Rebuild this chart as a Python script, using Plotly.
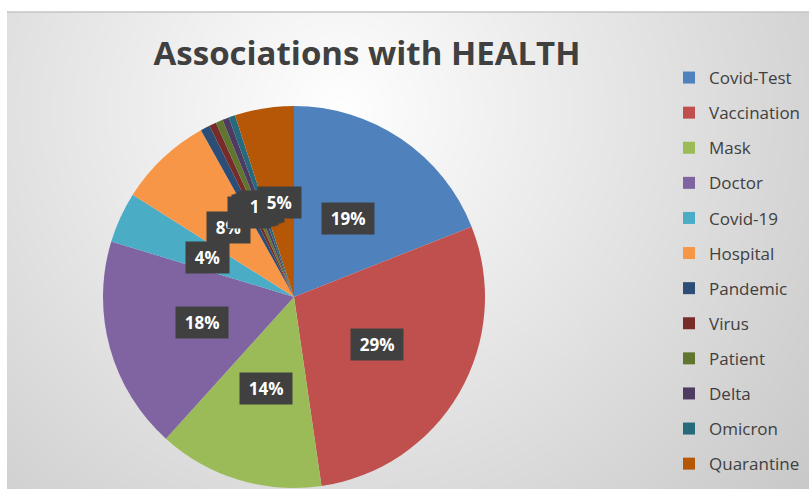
import math
import zlib
import struct
import base64
import plotly.graph_objects as go

# ---------------- data ----------------
categories = ["Covid-Test", "Vaccination", "Mask", "Doctor", "Covid-19", "Hospital",
              "Pandemic", "Virus", "Patient", "Delta", "Omicron", "Quarantine"]
values = [19.0, 28.7, 14.0, 18.0, 4.3, 7.9, 0.8, 0.6, 0.6, 0.55, 0.55, 5.0]
colors = ["#4F81BD", "#C0504D", "#9BBB59", "#8064A2", "#4BACC6", "#F79646",
          "#2C4D75", "#772C2A", "#5F7530", "#4D3B62", "#276A7C", "#B65708"]
title_text = "Associations with HEALTH"

# ---------------- geometry / style ----------------
W, H = 809, 489
FONT = "Open Sans"
DARK = "#404040"

# pie domain in pixels (left, right, top, bottom)
pie_l, pie_r, pie_t, pie_b = 103, 485, 106, 488
dom_x = [pie_l / W, pie_r / W]
dom_y = [1 - pie_b / H, 1 - pie_t / H]


# ---------------- background gradient (style only) ----------------
def png_gray(w, h, rows):
    raw = b"".join(b"\x00" + bytes(r) for r in rows)

    def chunk(t, d):
        c = struct.pack(">I", len(d)) + t + d
        return c + struct.pack(">I", zlib.crc32(t + d) & 0xFFFFFFFF)

    ihdr = struct.pack(">IIBBBBB", w, h, 8, 0, 0, 0, 0)
    return (b"\x89PNG\r\n\x1a\n" + chunk(b"IHDR", ihdr)
            + chunk(b"IDAT", zlib.compress(raw, 9)) + chunk(b"IEND", b""))


bg_x0, bg_y0 = 7, 12
bg_w, bg_h = W - bg_x0, H - bg_y0
scale = 2
iw, ih = bg_w // scale, bg_h // scale
gcx, gcy, k = 340, 110, 0.09
rows = []
for j in range(ih):
    py = bg_y0 + (j + 0.5) * scale
    row = []
    for i in range(iw):
        px = bg_x0 + (i + 0.5) * scale
        d = math.hypot(px - gcx, py - gcy)
        v = 255 - k * d
        row.append(int(max(195, min(255, v))))
    rows.append(row)
bg_src = "data:image/png;base64," + base64.b64encode(png_gray(iw, ih, rows)).decode()

fig = go.Figure()

fig.add_trace(go.Pie(
    labels=categories,
    values=values,
    marker=dict(colors=colors, line=dict(width=0)),
    sort=False,
    direction="clockwise",
    rotation=0,
    textinfo="none",
    showlegend=False,
    domain=dict(x=dom_x, y=dom_y),
    hoverinfo="label+percent",
))

# legend entries (one per category, coloured squares)
for cat, col in zip(categories, colors):
    fig.add_trace(go.Scatter(
        x=[None], y=[None], mode="markers",
        marker=dict(symbol="square", size=12, color=col),
        name=cat, legendgroup=cat, showlegend=True, hoverinfo="skip",
    ))

# data labels: dark boxes at half radius of each slice's mid angle
total = sum(values)
cx_px = (pie_l + pie_r) / 2
cy_px = (pie_t + pie_b) / 2
R = min(pie_r - pie_l, pie_b - pie_t) / 2
annotations = []
cum = 0.0
for v in values:
    frac = v / total
    mid = cum + frac / 2
    cum += frac
    th = 2 * math.pi * mid
    x_px = cx_px + 0.5 * R * math.sin(th)
    y_px = cy_px - 0.5 * R * math.cos(th)
    pct = int(math.floor(frac * 100 + 0.5))
    annotations.append(dict(
        x=x_px / W, y=1 - y_px / H, xref="paper", yref="paper",
        text=f"<b>\u2009{pct}%\u2009</b>", showarrow=False,
        font=dict(family=FONT, size=17, color="white"),
        bgcolor=DARK, borderpad=6, height=19,
        xanchor="center", yanchor="middle",
    ))

fig.update_layout(
    width=W, height=H,
    margin=dict(l=0, r=0, t=0, b=0),
    paper_bgcolor="white",
    plot_bgcolor="rgba(0,0,0,0)",
    xaxis=dict(visible=False, range=[0, 1]),
    yaxis=dict(visible=False, range=[0, 1]),
    title=dict(
        text=f"<b>{title_text}</b>",
        font=dict(family=FONT, size=33, color=DARK),
        x=367 / W, xanchor="center", xref="paper",
        y=1 - 53 / H, yanchor="middle", yref="container",
    ),
    legend=dict(
        x=669 / W, xanchor="left", y=1 - 60 / H, yanchor="top",
        font=dict(family=FONT, size=17, color=DARK),
        tracegroupgap=10, bgcolor="rgba(0,0,0,0)",
        itemclick=False, itemdoubleclick=False,
    ),
    images=[dict(
        source=bg_src, xref="paper", yref="paper",
        x=bg_x0 / W, y=1 - bg_y0 / H, sizex=bg_w / W, sizey=bg_h / H,
        xanchor="left", yanchor="top", sizing="stretch", layer="below",
    )],
    shapes=[dict(
        type="line", xref="paper", yref="paper",
        x0=bg_x0 / W, x1=1, y0=1 - bg_y0 / H, y1=1 - bg_y0 / H,
        line=dict(color="#c4c4c4", width=1.5),
    )],
    annotations=annotations,
    showlegend=True,
)

fig.write_html("out.html", config={"displayModeBar": False},
               post_script="document.body.style.margin='0';")
